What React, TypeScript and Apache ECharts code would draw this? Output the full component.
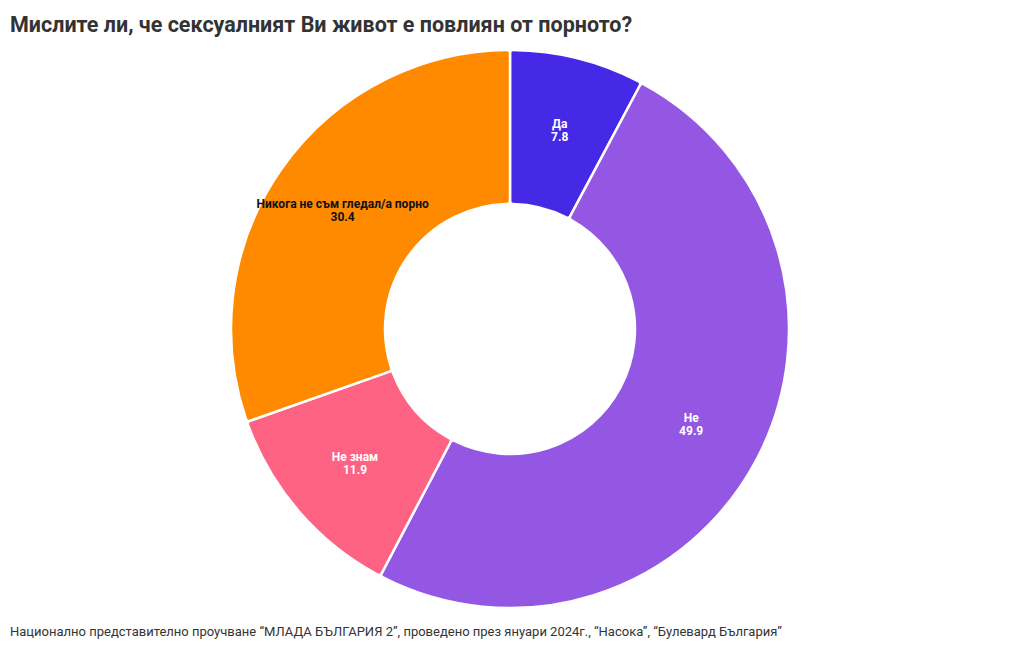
import React, { useEffect, useRef } from "react";
import * as echarts from "echarts";

const categories = ["Да", "Не", "Не знам", "Никога не съм гледал/а порно"];
const values = [7.8, 49.9, 11.9, 30.4];
const colors = ["#4529e6", "#9457e3", "#ff6384", "#ff8a00"];
const labelColors = ["#ffffff", "#ffffff", "#ffffff", "#111111"];

const titleText = "Мислите ли, че сексуалният Ви живот е повлиян от порното?";
const footerText =
  "Национално представително проучване “МЛАДА БЪЛГАРИЯ 2”, проведено през януари 2024г., “Насока”, “Булевард България”";

const FONT = "Roboto, 'Noto Sans', sans-serif";

export default function App() {
  const ref = useRef<HTMLDivElement>(null);
  useEffect(() => {
    if (!ref.current) return;
    const chart = echarts.init(ref.current, null, { renderer: "svg" });
    chart.setOption({
      animation: false,
      backgroundColor: "#ffffff",
      title: {
        text: titleText,
        left: 10,
        top: 13,
        padding: 0,
        textStyle: { fontFamily: FONT, fontSize: 21.5, fontWeight: "bold", color: "#333333" },
      },
      graphic: [
        {
          type: "text",
          left: 10,
          top: 625,
          style: { text: footerText, font: `13px ${FONT}`, fill: "#333333" },
        },
      ],
      series: [
        {
          type: "pie",
          center: [510, 329],
          radius: [125, 279],
          startAngle: 90,
          clockwise: true,
          avoidLabelOverlap: false,
          itemStyle: { borderColor: "#ffffff", borderWidth: 2.5, borderRadius: 3 },
          label: {
            show: true,
            position: "inside",
            fontFamily: FONT,
            fontSize: 12,
            fontWeight: "bold",
            lineHeight: 13,
            formatter: (p: any) => `${p.name}\n${p.value}`,
          },
          labelLine: { show: false },
          emphasis: { disabled: true },
          data: categories.map((c, i) => ({
            name: c,
            value: values[i],
            itemStyle: { color: colors[i] },
            label: { color: labelColors[i] },
          })),
        },
      ],
    });
    return () => chart.dispose();
  }, []);
  return <div ref={ref} style={{ position: "fixed", left: 0, top: 0, width: 1020, height: 650 }} />;
}
